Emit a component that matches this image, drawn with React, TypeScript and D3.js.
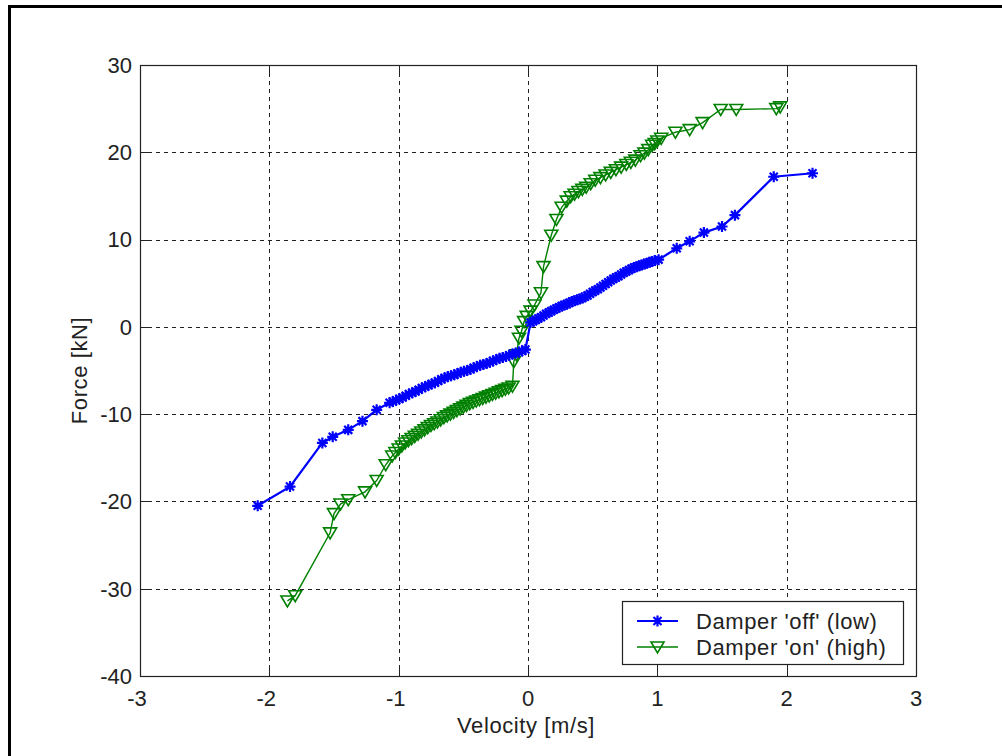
import React from 'react';
import * as d3 from 'd3';

// Damper 'off' (low) — velocity [m/s], force [kN]
const offVelocity = [
  -2.09, -1.84, -1.59, -1.51, -1.39, -1.28, -1.17,
  -1.07, -1.045, -1.02, -0.995, -0.97, -0.945, -0.92, -0.895, -0.87, -0.845, -0.82, -0.795,
  -0.77, -0.745, -0.72, -0.695, -0.67, -0.645, -0.62, -0.595, -0.57, -0.545, -0.52, -0.495,
  -0.47, -0.445, -0.42, -0.395, -0.37, -0.345, -0.32, -0.295, -0.27, -0.245, -0.22, -0.195,
  -0.17, -0.145, -0.12, -0.095, -0.07, -0.045, -0.02,
  0.02, 0.04, 0.06, 0.08, 0.1, 0.12, 0.14, 0.16, 0.18, 0.2, 0.22, 0.24, 0.26, 0.28, 0.3,
  0.32, 0.34, 0.36, 0.38, 0.4, 0.42, 0.44, 0.46, 0.48, 0.5, 0.52, 0.54, 0.56, 0.58, 0.6,
  0.62, 0.64, 0.66, 0.68, 0.7, 0.72, 0.74, 0.76, 0.78, 0.8, 0.82, 0.84, 0.86, 0.88, 0.9,
  0.92, 0.94, 0.96, 0.98, 1.01,
  1.15, 1.25, 1.36, 1.5, 1.6, 1.9, 2.2,
];
const offForce = [
  -20.5, -18.3, -13.3, -12.6, -11.8, -10.8, -9.5,
  -8.7, -8.55, -8.4, -8.25, -8.1, -7.9, -7.7, -7.55, -7.4, -7.2, -7.0, -6.85,
  -6.7, -6.55, -6.4, -6.2, -6.0, -5.85, -5.7, -5.6, -5.5, -5.35, -5.2, -5.1,
  -5.0, -4.85, -4.7, -4.55, -4.4, -4.3, -4.2, -4.05, -3.9, -3.75, -3.6, -3.5,
  -3.4, -3.25, -3.1, -3.0, -2.9, -2.75, -2.6,
  0.5, 0.65, 0.8, 0.95, 1.1, 1.3, 1.5, 1.65, 1.8, 1.95, 2.1, 2.25, 2.4, 2.5, 2.6,
  2.75, 2.9, 3.0, 3.1, 3.2, 3.3, 3.45, 3.6, 3.8, 4.0, 4.15, 4.3, 4.5, 4.7, 4.9,
  5.1, 5.3, 5.5, 5.65, 5.8, 6.0, 6.2, 6.35, 6.5, 6.65, 6.8, 6.9, 7.0, 7.1, 7.2,
  7.3, 7.4, 7.5, 7.6, 7.7,
  9.0, 9.8, 10.8, 11.5, 12.8, 17.2, 17.6,
];

// Damper 'on' (high)
const onVelocity = [
  -1.86, -1.8, -1.53, -1.5, -1.45, -1.39, -1.26, -1.17, -1.1,
  -1.05, -1.025, -1.0, -0.975, -0.95, -0.925, -0.9, -0.875, -0.85, -0.825, -0.8, -0.775,
  -0.75, -0.725, -0.7, -0.675, -0.65, -0.625, -0.6, -0.575, -0.55, -0.525, -0.5, -0.475,
  -0.45, -0.425, -0.4, -0.375, -0.35, -0.325, -0.3, -0.275, -0.25, -0.225, -0.2, -0.175,
  -0.15, -0.12,
  -0.11, -0.09, -0.07, -0.05, -0.03, -0.01, 0.02, 0.05, 0.1, 0.12, 0.18, 0.22, 0.26,
  0.3, 0.33, 0.36, 0.39, 0.42, 0.45, 0.485, 0.52, 0.56, 0.6, 0.64, 0.68, 0.72, 0.76,
  0.795, 0.83, 0.87, 0.9, 0.93, 0.96, 0.98, 1.0, 1.03,
  1.14, 1.25, 1.35, 1.49, 1.61, 1.92, 1.95,
];
const onForce = [
  -31.4, -30.8, -23.6, -21.4, -20.3, -19.8, -18.9, -17.6, -15.8,
  -14.8, -14.4, -14.0, -13.65, -13.3, -13.05, -12.8, -12.55, -12.3, -12.05, -11.8, -11.55,
  -11.3, -11.1, -10.9, -10.65, -10.4, -10.2, -10.0, -9.8, -9.6, -9.4, -9.2, -9.0,
  -8.8, -8.65, -8.5, -8.35, -8.2, -8.05, -7.9, -7.75, -7.6, -7.45, -7.3, -7.15,
  -7.0, -6.8,
  -4.0, -3.2, -1.3, -0.5, 0.6, 1.2, 1.8, 2.5, 3.9, 6.9, 10.5, 12.3, 13.7,
  14.4, 14.9, 15.2, 15.5, 15.75, 16.0, 16.4, 16.8, 17.1, 17.4, 17.7, 18.0, 18.3, 18.6,
  18.85, 19.1, 19.6, 19.9, 20.3, 20.8, 21.0, 21.3, 21.6,
  22.3, 22.6, 23.4, 24.9, 24.9, 25.0, 25.2,
];

const xTicks = [-3, -2, -1, 0, 1, 2, 3];
const yTicks = [-40, -30, -20, -10, 0, 10, 20, 30];
const legendLabels = ["Damper 'off' (low)", "Damper 'on' (high)"];

const W = 1002;
const H = 756;
const plot = { left: 140, right: 916, top: 65, bottom: 676 };
const FONT = "'Liberation Sans', Arial, Helvetica, sans-serif";
const BLUE = '#0000ff';
const GREEN = '#008000';

const Star = ({ x, y }: { x: number; y: number }) => (
  <path
    d={`M${x - 5.5},${y}H${x + 5.5}M${x},${y - 5.5}V${y + 5.5}M${x - 4},${y - 4}L${x + 4},${y + 4}M${x - 4},${y + 4}L${x + 4},${y - 4}`}
    stroke={BLUE}
    strokeWidth={2.2}
    fill="none"
  />
);

const TriDown = ({ x, y }: { x: number; y: number }) => (
  <path
    d={`M${x - 6.5},${y - 5}L${x + 6.5},${y - 5}L${x},${y + 6}Z`}
    stroke={GREEN}
    strokeWidth={1.6}
    fill="none"
  />
);

export default function App() {
  const x = d3.scaleLinear().domain([-3, 3]).range([plot.left, plot.right]);
  const y = d3.scaleLinear().domain([-40, 30]).range([plot.bottom, plot.top]);

  const offPts: [number, number][] = offVelocity.map((v, i) => [v, offForce[i]]);
  const onPts: [number, number][] = onVelocity.map((v, i) => [v, onForce[i]]);

  const line = d3
    .line<[number, number]>()
    .x((d) => x(d[0]))
    .y((d) => y(d[1]));

  const pw = plot.right - plot.left;
  const ph = plot.bottom - plot.top;

  // legend geometry
  const lg = { x: 622, y: 601, w: 281, h: 63 };
  const rowY = [621, 647];

  return (
    <svg
      width={W}
      height={H}
      style={{ position: 'absolute', left: 0, top: 0, background: '#fff' }}
      fontFamily={FONT}
    >
      <rect x={0} y={0} width={W} height={H} fill="#fff" />
      {/* window frame */}
      <rect x={8} y={5} width={W - 8} height={3} fill="#000" />
      <rect x={8} y={5} width={3} height={H - 5} fill="#000" />

      {/* grid */}
      <g stroke="#222" strokeWidth={1} strokeDasharray="4,4">
        {xTicks.slice(1, -1).map((t) => (
          <line key={'gx' + t} x1={Math.round(x(t)) + 0.5} x2={Math.round(x(t)) + 0.5} y1={plot.top} y2={plot.bottom} />
        ))}
        {yTicks.slice(1, -1).map((t) => (
          <line key={'gy' + t} y1={Math.round(y(t)) + 0.5} y2={Math.round(y(t)) + 0.5} x1={plot.left} x2={plot.right} />
        ))}
      </g>

      {/* ticks (inward) */}
      <g stroke="#222" strokeWidth={1}>
        {xTicks.map((t) => {
          const px = Math.round(x(t)) + 0.5;
          return (
            <g key={'tx' + t}>
              <line x1={px} x2={px} y1={plot.bottom} y2={plot.bottom - 8} />
              <line x1={px} x2={px} y1={plot.top} y2={plot.top + 8} />
            </g>
          );
        })}
        {yTicks.map((t) => {
          const py = Math.round(y(t)) + 0.5;
          return (
            <g key={'ty' + t}>
              <line y1={py} y2={py} x1={plot.left} x2={plot.left + 8} />
              <line y1={py} y2={py} x1={plot.right} x2={plot.right - 8} />
            </g>
          );
        })}
      </g>

      {/* series */}
      <path d={line(onPts) || ''} stroke={GREEN} strokeWidth={1.4} fill="none" />
      <path d={line(offPts) || ''} stroke={BLUE} strokeWidth={2.2} fill="none" />
      {onPts.map((d, i) => (
        <TriDown key={'on' + i} x={x(d[0])} y={y(d[1])} />
      ))}
      {offPts.map((d, i) => (
        <Star key={'off' + i} x={x(d[0])} y={y(d[1])} />
      ))}

      {/* axes box */}
      <rect x={plot.left + 0.5} y={plot.top + 0.5} width={pw} height={ph} fill="none" stroke="#222" strokeWidth={1.2} />

      {/* tick labels */}
      <g fontSize={22} fill="#222">
        {xTicks.map((t) => (
          <text key={'lx' + t} x={x(t) + (t < 0 ? -3 : 0)} y={706} textAnchor="middle">
            {t < 0 ? '-' + Math.abs(t) : String(t)}
          </text>
        ))}
        {yTicks.map((t) => (
          <text key={'ly' + t} x={132} y={y(t)} dy="0.36em" textAnchor="end">
            {t < 0 ? '-' + Math.abs(t) : String(t)}
          </text>
        ))}
      </g>

      {/* axis titles */}
      <text x={526} y={733} fontSize={22} letterSpacing={0.6} textAnchor="middle" fill="#222">
        Velocity [m/s]
      </text>
      <text
        transform={`translate(87,${(plot.top + plot.bottom) / 2}) rotate(-90)`}
        fontSize={22}
        letterSpacing={0.6}
        textAnchor="middle"
        fill="#222"
      >
        Force [kN]
      </text>

      {/* legend */}
      <rect x={lg.x + 0.5} y={lg.y + 0.5} width={lg.w} height={lg.h} fill="#fff" stroke="#222" strokeWidth={1.2} />
      <line x1={637} x2={678} y1={rowY[0]} y2={rowY[0]} stroke={BLUE} strokeWidth={2.2} />
      <Star x={657.5} y={rowY[0]} />
      <line x1={637} x2={678} y1={rowY[1]} y2={rowY[1]} stroke={GREEN} strokeWidth={1.4} />
      <TriDown x={657.5} y={rowY[1]} />
      {legendLabels.map((l, i) => (
        <text key={l} x={696} y={rowY[i]} dy="0.36em" fontSize={22} letterSpacing={0.6} fill="#222">
          {l}
        </text>
      ))}
    </svg>
  );
}
